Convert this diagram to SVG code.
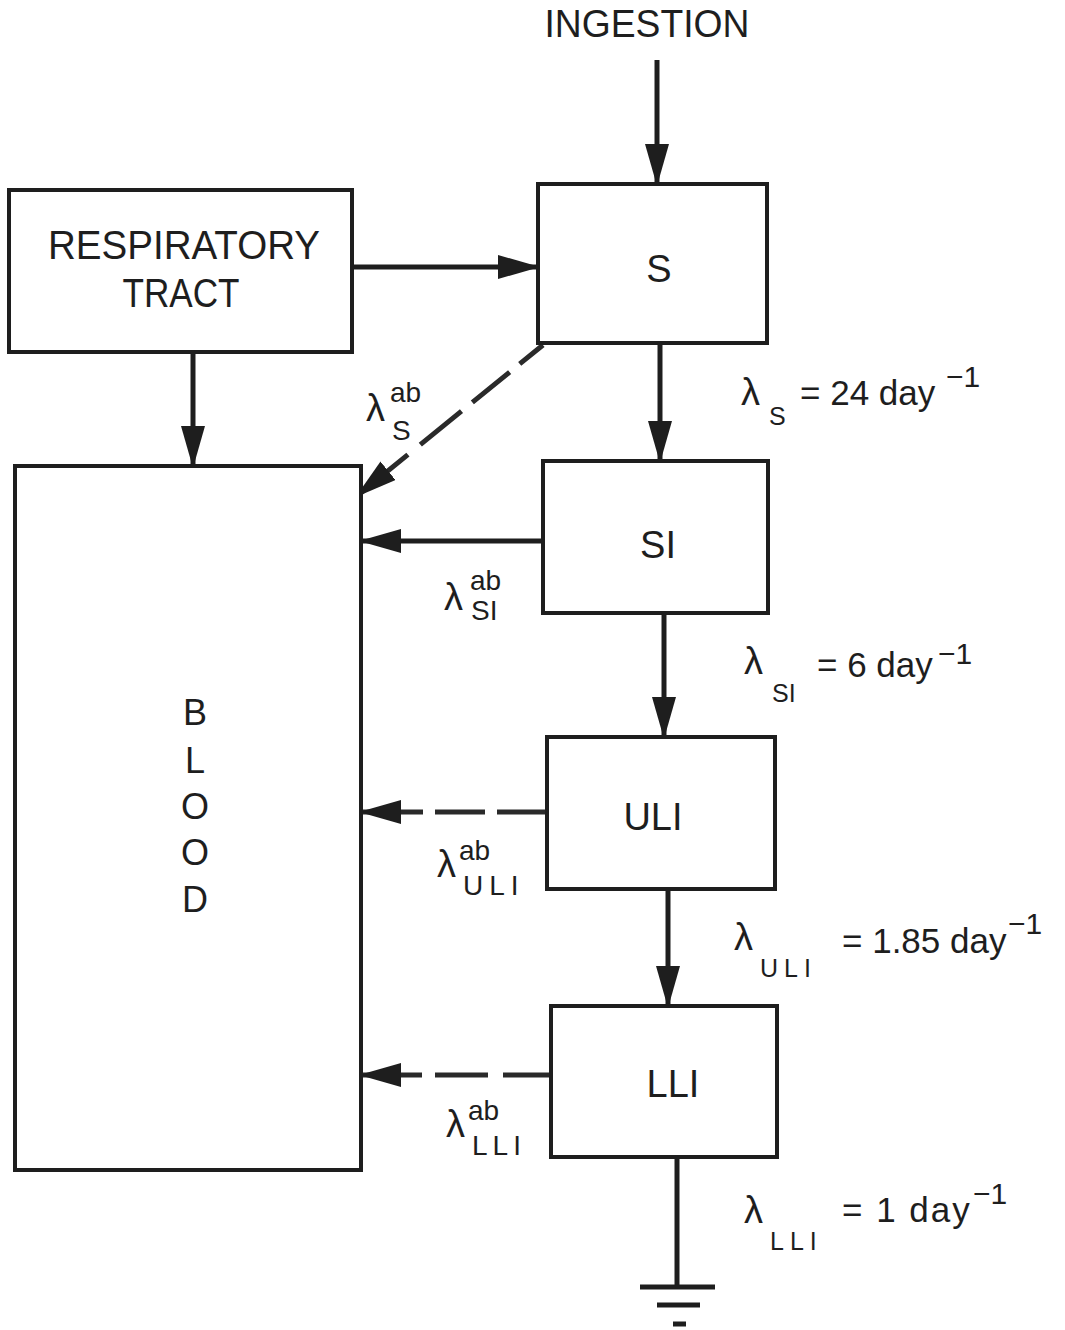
<svg xmlns="http://www.w3.org/2000/svg" width="1065" height="1330" viewBox="0 0 1065 1330">
<style>
  .box { fill: #fff; stroke: #1e1e1e; stroke-width: 4; }
  .conn { fill: none; stroke: #1e1e1e; stroke-width: 5; }
  .dash { fill: none; stroke: #2a2a2a; stroke-width: 5; }
  text { font-family: "Liberation Sans", Arial, sans-serif; fill: #1e1e1e; }
  .lbl { font-size: 38px; text-anchor: middle; }
  .big { font-size: 40px; text-anchor: middle; }
  .blood { font-size: 36px; text-anchor: middle; }
  .rate { font-size: 35px; }
  .lam { font-size: 38px; }
  .sub { font-size: 25px; }
  .sup { font-size: 30px; }
  .ab { font-size: 28px; }
</style>
<defs>
  <marker id="ah" viewBox="0 0 42 24" refX="40" refY="12" markerWidth="42" markerHeight="24" markerUnits="userSpaceOnUse" orient="auto">
    <path d="M0,0 L42,12 L0,24 z" fill="#1e1e1e"/>
  </marker>
</defs>

<g id="connectors">
  <path class="conn" d="M657,60 L657,184" marker-end="url(#ah)"/>
  <path class="conn" d="M352,267 L538,267" marker-end="url(#ah)"/>
  <path class="conn" d="M193,352 L193,466" marker-end="url(#ah)"/>
  <path class="dash" d="M543,345 L357,496" stroke-dasharray="30 13 48 14 53 16 300" marker-end="url(#ah)"/>
  <path class="conn" d="M660,343 L660,461" marker-end="url(#ah)"/>
  <path class="conn" d="M543,541 L361,541" marker-end="url(#ah)"/>
  <path class="conn" d="M664,613 L664,737" marker-end="url(#ah)"/>
  <path class="dash" d="M547,812 L361,812" stroke-dasharray="50 12 50 12 300" marker-end="url(#ah)"/>
  <path class="conn" d="M668,889 L668,1006" marker-end="url(#ah)"/>
  <path class="dash" d="M551,1075 L361,1075" stroke-dasharray="48 15 53 13 300" marker-end="url(#ah)"/>
  <path class="conn" d="M677,1157 L677,1287"/>
  <path class="conn" d="M640,1287 L715,1287 M657,1305 L700,1305 M673,1324 L686,1324"/>
</g>

<g id="ingestion">
  <text class="lbl" x="647" y="37" font-size="34" textLength="205" lengthAdjust="spacingAndGlyphs">INGESTION</text>
</g>

<g id="respiratory-tract">
  <rect class="box" x="9" y="190" width="343" height="162"/>
  <text class="big" x="184" y="259" textLength="272" lengthAdjust="spacingAndGlyphs">RESPIRATORY</text>
  <text class="big" x="181" y="307" textLength="117" lengthAdjust="spacingAndGlyphs">TRACT</text>
</g>

<g id="S">
  <rect class="box" x="538" y="184" width="229" height="159"/>
  <text class="lbl" x="659" y="282">S</text>
</g>

<g id="SI">
  <rect class="box" x="543" y="461" width="225" height="152"/>
  <text class="lbl" x="658" y="558">SI</text>
</g>

<g id="ULI">
  <rect class="box" x="547" y="737" width="228" height="152"/>
  <text class="lbl" x="653" y="830">ULI</text>
</g>

<g id="LLI">
  <rect class="box" x="551" y="1006" width="226" height="151"/>
  <text class="lbl" x="673" y="1097">LLI</text>
</g>

<g id="blood">
  <rect class="box" x="15" y="466" width="346" height="704"/>
  <text class="blood" x="195" y="725">B</text>
  <text class="blood" x="195" y="773">L</text>
  <text class="blood" x="195" y="819">O</text>
  <text class="blood" x="195" y="865">O</text>
  <text class="blood" x="195" y="912">D</text>
</g>

<g id="rate-labels">
  <text class="rate"><tspan class="lam" x="741" y="405">λ</tspan><tspan class="sub" x="769" y="425">S</tspan><tspan x="800" y="405">= 24 day</tspan><tspan class="sup" x="946" y="387">−1</tspan></text>
  <text class="rate"><tspan class="lam" x="744" y="674">λ</tspan><tspan class="sub" x="772" y="702">SI</tspan><tspan x="817" y="677">= 6 day</tspan><tspan class="sup" x="938" y="664">−1</tspan></text>
  <text class="rate"><tspan class="lam" x="734" y="950">λ</tspan><tspan class="sub" x="760" y="977" letter-spacing="6">ULI</tspan><tspan x="842" y="953">= 1.85 day</tspan><tspan class="sup" x="1008" y="934">−1</tspan></text>
  <text class="rate"><tspan class="lam" x="744" y="1223">λ</tspan><tspan class="sub" x="770" y="1250" letter-spacing="6">LLI</tspan><tspan x="842" y="1222" letter-spacing="2">= 1 day</tspan><tspan class="sup" x="973" y="1204">−1</tspan></text>
</g>

<g id="absorption-labels">
  <text class="lam"><tspan x="366" y="421">λ</tspan><tspan class="ab" x="390" y="402">ab</tspan><tspan class="ab" x="392" y="440">S</tspan></text>
  <text class="lam"><tspan x="444" y="610">λ</tspan><tspan class="ab" x="470" y="590">ab</tspan><tspan class="ab" x="471" y="620">SI</tspan></text>
  <text class="lam"><tspan x="437" y="877">λ</tspan><tspan class="ab" x="459" y="860">ab</tspan><tspan class="ab" x="463" y="895" letter-spacing="6">ULI</tspan></text>
  <text class="lam"><tspan x="446" y="1137">λ</tspan><tspan class="ab" x="468" y="1120">ab</tspan><tspan class="ab" x="472" y="1155" letter-spacing="5">LLI</tspan></text>
</g>
</svg>
